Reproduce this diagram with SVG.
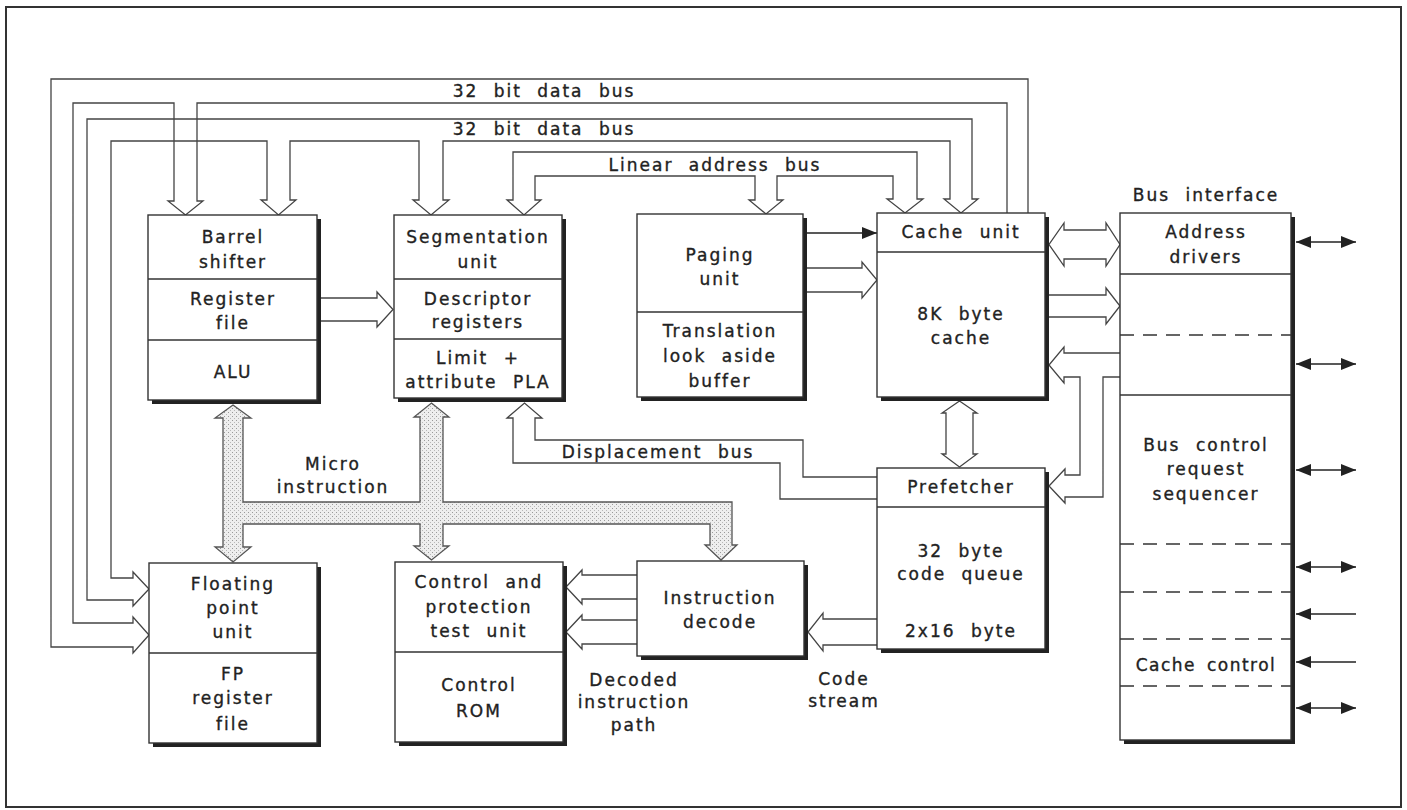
<svg xmlns="http://www.w3.org/2000/svg" width="1407" height="810" viewBox="0 0 1407 810">
<style>
.t{font-family:"DejaVu Sans","Liberation Sans",sans-serif;font-size:17px;letter-spacing:2px;word-spacing:8px;fill:#222;stroke:#222;stroke-width:0.35;text-anchor:middle}
.box{fill:#fff;stroke:#333;stroke-width:1.4}
.sh{fill:#222}
.div{stroke:#333;stroke-width:1.3;fill:none}
.dash{stroke:#333;stroke-width:1.3;fill:none;stroke-dasharray:14 9}
.bus{fill:none;stroke:#444;stroke-width:1.3;stroke-linejoin:miter}
.warrow{fill:#fff;stroke:#444;stroke-width:1.3}
.ext{stroke:#222;stroke-width:1.6;fill:none}
</style>
<defs>
<marker id="ah" markerUnits="userSpaceOnUse" markerWidth="16" markerHeight="12" refX="15" refY="6" orient="auto-start-reverse">
<path d="M0,0 L15,6 L0,12 Z" fill="#222"/>
</marker>
<pattern id="stip" width="4" height="4" patternUnits="userSpaceOnUse">
<rect width="4" height="4" fill="#eeeeee"/>
<rect x="0" y="0" width="1" height="1" fill="#999"/>
<rect x="2" y="2" width="1" height="1" fill="#b8b8b8"/>
</pattern>
</defs>
<rect x="0" y="0" width="1407" height="810" fill="#fff"/>
<rect x="6" y="7" width="1395" height="800" fill="none" stroke="#333" stroke-width="2"/>

<g id="connectors">
  <path class="bus" d="M1007,213 V103 H197 V201 H203 L185.5,215 L168,201 H174 V103 H73 V623 H133 V617 L149,635 L133,653 V647 H51 V79 H1028 V213"/>
  <path class="bus" d="M133,578 H111 V141 H267 V200 H261 L278.5,215 L296,200 H290 V141 H419 V200 H413 L431,215 L449,200 H443 V141 H950 V199 H944 L961,213 L978,199 H972 V119 H87 V600 H133 V606 L149,589 L133,572 Z"/>
  <path class="bus" d="M513,200 V152 H917 V199 H923 L905,213 L887,199 H893 V176 H777 V200 H783 L766,214 L749,200 H755 V176 H535 V200 H541 L524,215 L507,200 Z"/>
  <path class="warrow" d="M321,298 H377 V292 L393,309.5 L377,327 V321 H321"/>
  <line class="ext" x1="807" y1="233" x2="877" y2="233" marker-end="url(#ah)"/>
  <path class="warrow" d="M807,268 H862 V262 L877,280 L862,298 V292 H807"/>
  <path class="warrow" d="M1064,230 H1106 V223 L1120,244.5 L1106,266 V259 H1064 V266 L1049,244.5 L1064,223 Z"/>
  <path class="warrow" d="M1049,295 H1106 V288 L1120,306 L1106,324 V317 H1049"/>
  <path class="bus" d="M1120,353 H1064 V347 L1049,365 L1064,383 V377 H1080 V475 H1065 V469 L1049,486 L1065,503 V497 H1103 V377 H1120"/>
  <path class="warrow" d="M946,413 H942 L959.5,401 L977,413 H973 V454 H977 L959.5,467 L942,454 H946 Z"/>
  <path class="bus" d="M877,477 H803 V440 H535 V418 H542 L524.5,403 L507,418 H513 V463 H780 V499 H877"/>
  <path class="warrow" d="M877,619 H823 V613 L808,632 L823,651 V645 H877"/>
  <path class="warrow" d="M637,575 H582 V570 L566,587 L582,604 V599 H637"/>
  <path class="warrow" d="M637,620 H582 V615 L566,632 L582,649 V644 H637"/>
  <path fill="url(#stip)" stroke="#555" stroke-width="1.3" d="M233,405 L251,418 H243 V502 H420 V417 H414 L431.5,403 L449,417 H443 V502 H732 V545 H737 L721,560 L705,545 H710 V524 H443 V546 H449 L431.5,560 L414,546 H420 V524 H243 V547 H251 L233,562 L215,547 H223 V418 H215 Z"/>
  <line class="ext" x1="1296" y1="242" x2="1356" y2="242" marker-start="url(#ah)" marker-end="url(#ah)"/>
  <line class="ext" x1="1296" y1="364" x2="1356" y2="364" marker-start="url(#ah)" marker-end="url(#ah)"/>
  <line class="ext" x1="1296" y1="470" x2="1356" y2="470" marker-start="url(#ah)" marker-end="url(#ah)"/>
  <line class="ext" x1="1296" y1="567" x2="1356" y2="567" marker-start="url(#ah)" marker-end="url(#ah)"/>
  <line class="ext" x1="1356" y1="614" x2="1296" y2="614" marker-end="url(#ah)"/>
  <line class="ext" x1="1356" y1="662" x2="1296" y2="662" marker-end="url(#ah)"/>
  <line class="ext" x1="1296" y1="708" x2="1356" y2="708" marker-start="url(#ah)" marker-end="url(#ah)"/>
</g>

<g id="bus-labels">
  <text class="t" x="544" y="97">32 bit data bus</text>
  <text class="t" x="544" y="135">32 bit data bus</text>
  <text class="t" x="715" y="171">Linear address bus</text>
  <text class="t" x="658" y="458">Displacement bus</text>
  <text class="t" x="333" y="470">Micro</text>
  <text class="t" x="333" y="493">instruction</text>
  <text class="t" x="634" y="686">Decoded</text>
  <text class="t" x="634" y="708">instruction</text>
  <text class="t" x="634" y="731">path</text>
  <text class="t" x="844" y="685">Code</text>
  <text class="t" x="844" y="707">stream</text>
</g>

<g id="barrel">
  <rect class="sh" x="152" y="219" width="169" height="185"/>
  <rect class="box" x="148" y="215" width="169" height="185"/>
  <line class="div" x1="148" y1="279" x2="317" y2="279"/>
  <line class="div" x1="148" y1="340" x2="317" y2="340"/>
  <text class="t" x="233" y="243">Barrel</text>
  <text class="t" x="233" y="268">shifter</text>
  <text class="t" x="233" y="305">Register</text>
  <text class="t" x="233" y="329">file</text>
  <text class="t" x="233" y="378">ALU</text>
</g>

<g id="segmentation">
  <rect class="sh" x="398" y="219" width="168" height="183"/>
  <rect class="box" x="394" y="215" width="168" height="183"/>
  <line class="div" x1="394" y1="279" x2="562" y2="279"/>
  <line class="div" x1="394" y1="339" x2="562" y2="339"/>
  <text class="t" x="478" y="243">Segmentation</text>
  <text class="t" x="478" y="268">unit</text>
  <text class="t" x="478" y="305">Descriptor</text>
  <text class="t" x="478" y="328">registers</text>
  <text class="t" x="478" y="364">Limit +</text>
  <text class="t" x="478" y="388">attribute PLA</text>
</g>

<g id="paging">
  <rect class="sh" x="641" y="218" width="166" height="183"/>
  <rect class="box" x="637" y="214" width="166" height="183"/>
  <line class="div" x1="637" y1="312" x2="803" y2="312"/>
  <text class="t" x="720" y="261">Paging</text>
  <text class="t" x="720" y="285">unit</text>
  <text class="t" x="720" y="337">Translation</text>
  <text class="t" x="720" y="362">look aside</text>
  <text class="t" x="720" y="387">buffer</text>
</g>

<g id="cache">
  <rect class="sh" x="881" y="217" width="168" height="184"/>
  <rect class="box" x="877" y="213" width="168" height="184"/>
  <line class="div" x1="877" y1="252" x2="1045" y2="252"/>
  <text class="t" x="961" y="238">Cache unit</text>
  <text class="t" x="961" y="320">8K byte</text>
  <text class="t" x="961" y="344">cache</text>
</g>

<g id="bus-interface">
  <text class="t" x="1206" y="201">Bus interface</text>
  <rect class="sh" x="1124" y="217" width="171" height="527"/>
  <rect class="box" x="1120" y="213" width="171" height="527"/>
  <line class="div" x1="1120" y1="274" x2="1291" y2="274"/>
  <line class="dash" x1="1120" y1="335" x2="1291" y2="335"/>
  <line class="div" x1="1120" y1="395" x2="1291" y2="395"/>
  <line class="dash" x1="1120" y1="544" x2="1291" y2="544"/>
  <line class="dash" x1="1120" y1="592" x2="1291" y2="592"/>
  <line class="dash" x1="1120" y1="639" x2="1291" y2="639"/>
  <line class="dash" x1="1120" y1="686" x2="1291" y2="686"/>
  <text class="t" x="1206" y="238">Address</text>
  <text class="t" x="1206" y="263">drivers</text>
  <text class="t" x="1206" y="451">Bus control</text>
  <text class="t" x="1206" y="475">request</text>
  <text class="t" x="1206" y="500">sequencer</text>
  <text class="t" x="1206" y="671" style="word-spacing:4px;letter-spacing:1.5px">Cache control</text>
</g>

<g id="prefetcher">
  <rect class="sh" x="881" y="472" width="168" height="181"/>
  <rect class="box" x="877" y="468" width="168" height="181"/>
  <line class="div" x1="877" y1="507" x2="1045" y2="507"/>
  <text class="t" x="961" y="493">Prefetcher</text>
  <text class="t" x="961" y="557">32 byte</text>
  <text class="t" x="961" y="580">code queue</text>
  <text class="t" x="961" y="637">2x16 byte</text>
</g>

<g id="instruction-decode">
  <rect class="sh" x="641" y="565" width="167" height="95"/>
  <rect class="box" x="637" y="561" width="167" height="95"/>
  <text class="t" x="720" y="604">Instruction</text>
  <text class="t" x="720" y="628">decode</text>
</g>

<g id="control">
  <rect class="sh" x="399" y="566" width="168" height="180"/>
  <rect class="box" x="395" y="562" width="168" height="180"/>
  <line class="div" x1="395" y1="652" x2="563" y2="652"/>
  <text class="t" x="479" y="588">Control and</text>
  <text class="t" x="479" y="613">protection</text>
  <text class="t" x="479" y="637">test unit</text>
  <text class="t" x="479" y="691">Control</text>
  <text class="t" x="479" y="717">ROM</text>
</g>

<g id="floating-point">
  <rect class="sh" x="153" y="567" width="168" height="180"/>
  <rect class="box" x="149" y="563" width="168" height="180"/>
  <line class="div" x1="149" y1="653" x2="317" y2="653"/>
  <text class="t" x="233" y="590">Floating</text>
  <text class="t" x="233" y="614">point</text>
  <text class="t" x="233" y="638">unit</text>
  <text class="t" x="233" y="680">FP</text>
  <text class="t" x="233" y="704">register</text>
  <text class="t" x="233" y="730">file</text>
</g>
</svg>
